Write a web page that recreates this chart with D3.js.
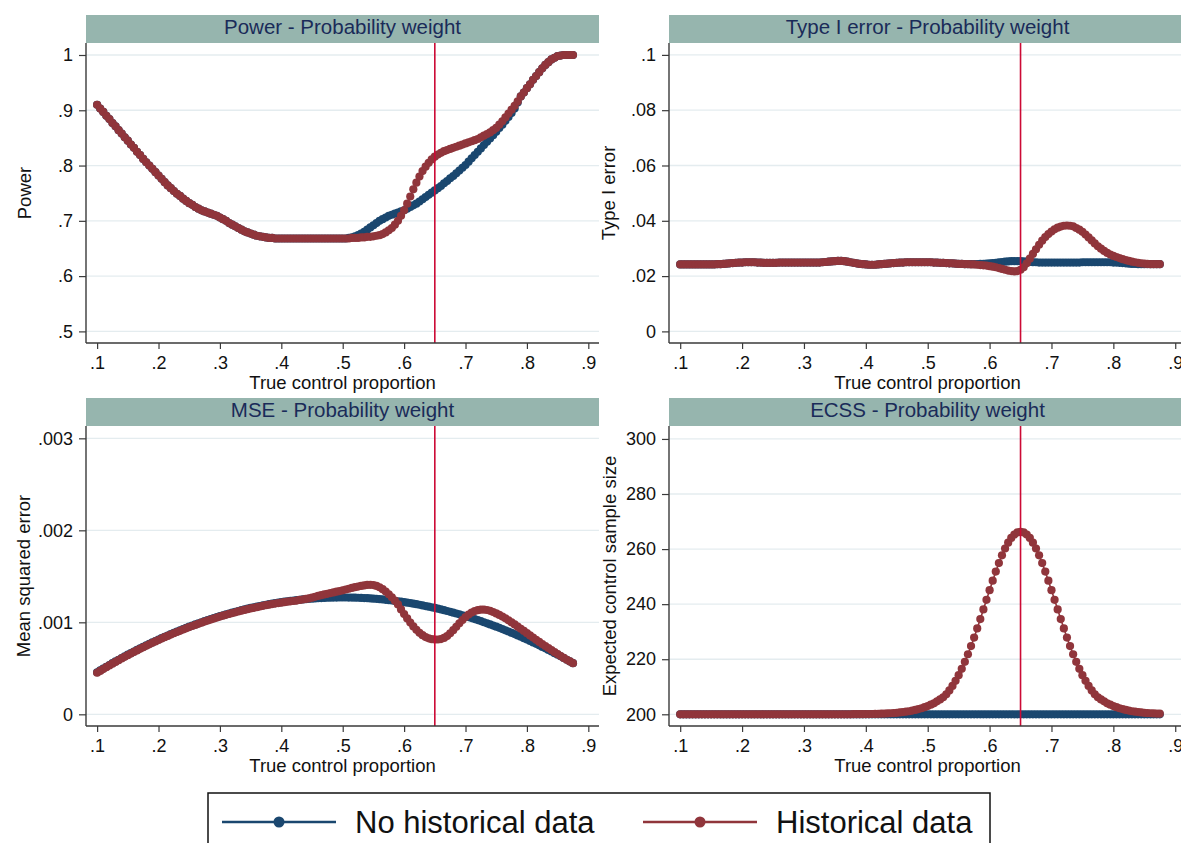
<!DOCTYPE html>
<html>
<head>
<meta charset="utf-8">
<script src="https://cdn.jsdelivr.net/npm/d3@7"></script>
<style>
  body { margin: 0; background: #fff; }
  svg { display: block; font-family: "Liberation Sans", Arial, sans-serif; }
</style>
</head>
<body>
<svg id="chart" width="1181" height="843"></svg>
<script>
// True control proportion grid
const trueProp = [
  0.100,0.105,0.110,0.115,0.120,0.125,0.130,0.135,0.140,0.145,
  0.150,0.155,0.160,0.165,0.170,0.175,0.180,0.185,0.190,0.195,
  0.200,0.205,0.210,0.215,0.220,0.225,0.230,0.235,0.240,0.245,
  0.250,0.255,0.260,0.265,0.270,0.275,0.280,0.285,0.290,0.295,
  0.300,0.305,0.310,0.315,0.320,0.325,0.330,0.335,0.340,0.345,
  0.350,0.355,0.360,0.365,0.370,0.375,0.380,0.385,0.390,0.395,
  0.400,0.405,0.410,0.415,0.420,0.425,0.430,0.435,0.440,0.445,
  0.450,0.455,0.460,0.465,0.470,0.475,0.480,0.485,0.490,0.495,
  0.500,0.505,0.510,0.515,0.520,0.525,0.530,0.535,0.540,0.545,
  0.550,0.555,0.560,0.565,0.570,0.575,0.580,0.585,0.590,0.595,
  0.600,0.605,0.610,0.615,0.620,0.625,0.630,0.635,0.640,0.645,
  0.650,0.655,0.660,0.665,0.670,0.675,0.680,0.685,0.690,0.695,
  0.700,0.705,0.710,0.715,0.720,0.725,0.730,0.735,0.740,0.745,
  0.750,0.755,0.760,0.765,0.770,0.775,0.780,0.785,0.790,0.795,
  0.800,0.805,0.810,0.815,0.820,0.825,0.830,0.835,0.840,0.845,
  0.850,0.855,0.860,0.865,0.870,0.875
];

// Power
const powerNoHist = [
  0.910,0.903,0.897,0.890,0.884,0.877,0.871,0.864,0.858,0.851,
  0.845,0.838,0.832,0.825,0.819,0.812,0.806,0.800,0.794,0.788,
  0.782,0.776,0.770,0.764,0.759,0.754,0.749,0.745,0.740,0.736,
  0.732,0.729,0.725,0.722,0.719,0.717,0.715,0.713,0.711,0.709,
  0.706,0.703,0.700,0.696,0.693,0.690,0.687,0.684,0.681,0.679,
  0.677,0.675,0.673,0.672,0.671,0.670,0.669,0.669,0.668,0.668,
  0.668,0.668,0.668,0.668,0.668,0.668,0.668,0.668,0.668,0.668,
  0.668,0.668,0.668,0.668,0.668,0.668,0.668,0.668,0.668,0.668,
  0.668,0.668,0.669,0.670,0.672,0.674,0.677,0.680,0.684,0.688,
  0.692,0.696,0.700,0.703,0.706,0.709,0.711,0.713,0.715,0.717,
  0.719,0.722,0.725,0.728,0.731,0.735,0.739,0.743,0.747,0.751,
  0.755,0.759,0.763,0.768,0.772,0.777,0.781,0.786,0.791,0.796,
  0.801,0.807,0.813,0.819,0.825,0.831,0.837,0.843,0.849,0.855,
  0.861,0.868,0.874,0.881,0.888,0.895,0.903,0.914,0.925,0.932,
  0.940,0.947,0.955,0.962,0.969,0.976,0.982,0.987,0.992,0.995,
  0.998,0.999,1.000,1.000,1.000,1.000
];
const powerHist = [
  0.910,0.903,0.897,0.890,0.884,0.877,0.871,0.864,0.858,0.851,
  0.845,0.838,0.832,0.825,0.819,0.812,0.806,0.800,0.794,0.788,
  0.782,0.776,0.770,0.764,0.759,0.754,0.749,0.745,0.740,0.736,
  0.732,0.729,0.725,0.722,0.719,0.717,0.715,0.713,0.711,0.709,
  0.706,0.703,0.700,0.696,0.693,0.690,0.687,0.684,0.681,0.679,
  0.677,0.675,0.673,0.672,0.671,0.670,0.669,0.669,0.668,0.668,
  0.668,0.668,0.668,0.668,0.668,0.668,0.668,0.668,0.668,0.668,
  0.668,0.668,0.668,0.668,0.668,0.668,0.668,0.668,0.668,0.668,
  0.668,0.668,0.668,0.669,0.669,0.669,0.670,0.670,0.671,0.671,
  0.672,0.673,0.674,0.676,0.679,0.683,0.687,0.693,0.700,0.709,
  0.719,0.731,0.744,0.757,0.769,0.780,0.790,0.798,0.805,0.811,
  0.816,0.820,0.823,0.826,0.828,0.830,0.832,0.834,0.836,0.838,
  0.840,0.842,0.844,0.846,0.848,0.851,0.854,0.857,0.860,0.864,
  0.868,0.874,0.880,0.887,0.894,0.901,0.908,0.916,0.925,0.932,
  0.940,0.947,0.955,0.962,0.969,0.976,0.982,0.987,0.992,0.995,
  0.998,0.999,1.000,1.000,1.000,1.000
];

// Type I error
const typeINoHist = [
  0.0242,0.0242,0.0242,0.0242,0.0242,0.0242,0.0242,0.0242,0.0242,0.0242,
  0.0242,0.0242,0.0243,0.0243,0.0244,0.0245,0.0246,0.0247,0.0248,0.0249,
  0.0249,0.0250,0.0250,0.0250,0.0250,0.0249,0.0249,0.0248,0.0248,0.0248,
  0.0248,0.0248,0.0249,0.0249,0.0249,0.0249,0.0249,0.0249,0.0249,0.0249,
  0.0249,0.0249,0.0249,0.0249,0.0249,0.0249,0.0250,0.0251,0.0252,0.0253,
  0.0254,0.0255,0.0255,0.0254,0.0252,0.0250,0.0248,0.0246,0.0244,0.0243,
  0.0242,0.0241,0.0241,0.0241,0.0242,0.0243,0.0244,0.0245,0.0246,0.0247,
  0.0248,0.0249,0.0249,0.0250,0.0250,0.0250,0.0250,0.0250,0.0250,0.0250,
  0.0250,0.0250,0.0249,0.0249,0.0248,0.0248,0.0247,0.0246,0.0246,0.0245,
  0.0244,0.0244,0.0243,0.0243,0.0243,0.0243,0.0243,0.0244,0.0244,0.0245,
  0.0246,0.0247,0.0248,0.0250,0.0251,0.0252,0.0253,0.0254,0.0254,0.0254,
  0.0254,0.0253,0.0252,0.0251,0.0250,0.0250,0.0249,0.0249,0.0249,0.0249,
  0.0249,0.0249,0.0249,0.0249,0.0249,0.0249,0.0249,0.0249,0.0249,0.0249,
  0.0250,0.0250,0.0250,0.0250,0.0250,0.0250,0.0250,0.0250,0.0250,0.0250,
  0.0249,0.0249,0.0248,0.0247,0.0246,0.0245,0.0244,0.0244,0.0243,0.0243,
  0.0243,0.0243,0.0243,0.0243,0.0243,0.0243
];
const typeIHist = [
  0.0242,0.0242,0.0242,0.0242,0.0242,0.0242,0.0242,0.0242,0.0242,0.0242,
  0.0242,0.0242,0.0243,0.0243,0.0244,0.0245,0.0246,0.0247,0.0248,0.0249,
  0.0249,0.0250,0.0250,0.0250,0.0250,0.0249,0.0249,0.0248,0.0248,0.0248,
  0.0248,0.0248,0.0249,0.0249,0.0249,0.0249,0.0249,0.0249,0.0249,0.0249,
  0.0249,0.0249,0.0249,0.0249,0.0249,0.0249,0.0250,0.0251,0.0252,0.0253,
  0.0254,0.0255,0.0255,0.0254,0.0252,0.0250,0.0248,0.0246,0.0244,0.0243,
  0.0242,0.0241,0.0241,0.0241,0.0242,0.0243,0.0244,0.0245,0.0246,0.0247,
  0.0248,0.0249,0.0249,0.0250,0.0250,0.0250,0.0250,0.0250,0.0250,0.0250,
  0.0250,0.0250,0.0249,0.0249,0.0248,0.0248,0.0247,0.0246,0.0246,0.0245,
  0.0244,0.0244,0.0243,0.0243,0.0242,0.0242,0.0241,0.0240,0.0239,0.0238,
  0.0236,0.0234,0.0232,0.0229,0.0226,0.0223,0.0220,0.0218,0.0217,0.0218,
  0.0223,0.0232,0.0246,0.0263,0.0280,0.0297,0.0313,0.0328,0.0341,0.0352,
  0.0361,0.0369,0.0375,0.0379,0.0382,0.0383,0.0382,0.0380,0.0374,0.0368,
  0.0360,0.0350,0.0340,0.0329,0.0318,0.0308,0.0299,0.0291,0.0284,0.0278,
  0.0273,0.0269,0.0265,0.0261,0.0258,0.0255,0.0252,0.0250,0.0248,0.0246,
  0.0245,0.0244,0.0243,0.0243,0.0243,0.0243
];

// Mean squared error
const mseNoHist = [
  0.000457,0.000477,0.000497,0.000517,0.000536,0.000556,0.000575,0.000593,0.000612,0.000630,
  0.000648,0.000665,0.000683,0.000700,0.000717,0.000733,0.000750,0.000766,0.000782,0.000797,
  0.000813,0.000828,0.000843,0.000857,0.000872,0.000886,0.000900,0.000913,0.000927,0.000940,
  0.000953,0.000965,0.000977,0.000989,0.001001,0.001013,0.001024,0.001035,0.001046,0.001057,
  0.001067,0.001077,0.001087,0.001096,0.001105,0.001114,0.001123,0.001132,0.001140,0.001148,
  0.001156,0.001163,0.001170,0.001177,0.001184,0.001191,0.001197,0.001203,0.001209,0.001214,
  0.001219,0.001224,0.001229,0.001233,0.001237,0.001241,0.001245,0.001249,0.001252,0.001255,
  0.001257,0.001260,0.001262,0.001264,0.001265,0.001267,0.001268,0.001269,0.001269,0.001270,
  0.001270,0.001270,0.001269,0.001269,0.001268,0.001267,0.001265,0.001264,0.001262,0.001260,
  0.001257,0.001255,0.001252,0.001249,0.001245,0.001241,0.001237,0.001233,0.001229,0.001224,
  0.001219,0.001214,0.001209,0.001203,0.001197,0.001191,0.001184,0.001177,0.001170,0.001163,
  0.001156,0.001148,0.001140,0.001132,0.001123,0.001114,0.001105,0.001096,0.001087,0.001077,
  0.001067,0.001057,0.001046,0.001035,0.001024,0.001013,0.001001,0.000989,0.000977,0.000965,
  0.000953,0.000940,0.000927,0.000913,0.000900,0.000886,0.000872,0.000857,0.000843,0.000828,
  0.000813,0.000797,0.000782,0.000766,0.000750,0.000733,0.000717,0.000700,0.000683,0.000665,
  0.000648,0.000630,0.000612,0.000593,0.000575,0.000556
];
const mseHist = [
  0.000452,0.000472,0.000492,0.000512,0.000531,0.000551,0.000570,0.000588,0.000607,0.000625,
  0.000643,0.000660,0.000678,0.000695,0.000712,0.000728,0.000745,0.000761,0.000777,0.000792,
  0.000808,0.000823,0.000838,0.000852,0.000867,0.000881,0.000895,0.000908,0.000922,0.000935,
  0.000948,0.000960,0.000972,0.000984,0.000996,0.001008,0.001019,0.001030,0.001041,0.001052,
  0.001062,0.001072,0.001082,0.001091,0.001100,0.001109,0.001118,0.001127,0.001135,0.001143,
  0.001151,0.001158,0.001165,0.001172,0.001179,0.001186,0.001192,0.001198,0.001204,0.001209,
  0.001214,0.001219,0.001224,0.001228,0.001232,0.001236,0.001243,0.001248,0.001254,0.001260,
  0.001268,0.001277,0.001287,0.001295,0.001303,0.001310,0.001318,0.001325,0.001333,0.001340,
  0.001348,0.001357,0.001365,0.001374,0.001382,0.001389,0.001396,0.001401,0.001406,0.001408,
  0.001405,0.001396,0.001381,0.001360,0.001334,0.001305,0.001272,0.001235,0.001194,0.001140,
  0.001090,0.001042,0.000997,0.000955,0.000918,0.000886,0.000860,0.000840,0.000826,0.000817,
  0.000813,0.000813,0.000818,0.000830,0.000850,0.000880,0.000915,0.000952,0.000990,0.001025,
  0.001057,0.001085,0.001107,0.001122,0.001132,0.001137,0.001138,0.001134,0.001125,0.001112,
  0.001097,0.001080,0.001062,0.001043,0.001022,0.001000,0.000977,0.000953,0.000930,0.000906,
  0.000882,0.000858,0.000834,0.000810,0.000787,0.000764,0.000742,0.000720,0.000698,0.000676,
  0.000655,0.000634,0.000613,0.000593,0.000575,0.000556
];

// Expected control sample size
const ecssNoHist = [
  200,200,200,200,200,200,200,200,200,200,
  200,200,200,200,200,200,200,200,200,200,
  200,200,200,200,200,200,200,200,200,200,
  200,200,200,200,200,200,200,200,200,200,
  200,200,200,200,200,200,200,200,200,200,
  200,200,200,200,200,200,200,200,200,200,
  200,200,200,200,200,200,200,200,200,200,
  200,200,200,200,200,200,200,200,200,200,
  200,200,200,200,200,200,200,200,200,200,
  200,200,200,200,200,200,200,200,200,200,
  200,200,200,200,200,200,200,200,200,200,
  200,200,200,200,200,200,200,200,200,200,
  200,200,200,200,200,200,200,200,200,200,
  200,200,200,200,200,200,200,200,200,200,
  200,200,200,200,200,200,200,200,200,200,
  200,200,200,200,200,200
];
const ecssHist = [
  200.0,200.0,200.0,200.0,200.0,200.0,200.0,200.0,200.0,200.0,
  200.0,200.0,200.0,200.0,200.0,200.0,200.0,200.0,200.0,200.0,
  200.0,200.0,200.0,200.0,200.0,200.0,200.0,200.0,200.0,200.0,
  200.0,200.0,200.0,200.0,200.0,200.0,200.0,200.0,200.0,200.0,
  200.0,200.0,200.0,200.0,200.0,200.0,200.0,200.0,200.0,200.0,
  200.0,200.0,200.0,200.0,200.0,200.0,200.03,200.04,200.05,200.06,
  200.07,200.09,200.11,200.14,200.17,200.21,200.26,200.32,200.38,200.46,
  200.55,200.67,200.8,200.95,201.1,201.35,201.6,201.9,202.2,202.6,
  203.0,203.5,204.0,204.7,205.4,206.2,207.24,208.66,210.3,212.15,
  214.22,216.53,219.06,221.81,224.76,227.88,231.17,234.58,238.07,241.58,
  245.09,248.52,251.82,254.91,257.73,260.22,262.34,264.04,265.29,266.05,
  266.3,266.05,265.29,264.04,262.34,260.22,257.73,254.91,251.82,248.52,
  245.09,241.58,238.07,234.58,231.17,227.88,224.76,221.81,219.06,216.53,
  214.22,212.15,210.3,208.66,207.24,206.2,205.4,204.7,204.0,203.5,
  203.0,202.6,202.2,201.9,201.6,201.35,201.1,200.95,200.8,200.67,
  200.55,200.46,200.38,200.32,200.26,200.21
];

// Axis ticks
const xTicks = [0.1,0.2,0.3,0.4,0.5,0.6,0.7,0.8,0.9];
const xTickLabels = [".1",".2",".3",".4",".5",".6",".7",".8",".9"];
const powerTicks = [0.5,0.6,0.7,0.8,0.9,1];
const powerTickLabels = [".5",".6",".7",".8",".9","1"];
const typeITicks = [0,0.02,0.04,0.06,0.08,0.1];
const typeITickLabels = ["0",".02",".04",".06",".08",".1"];
const mseTicks = [0,0.001,0.002,0.003];
const mseTickLabels = ["0",".001",".002",".003"];
const ecssTicks = [200,220,240,260,280,300];
const ecssTickLabels = ["200","220","240","260","280","300"];

const seriesNames = ["No historical data", "Historical data"];
const referenceProp = 0.65;

const COLORS = { noHist: "#1a476f", hist: "#90353b" };
const HEADER_FILL = "#96b5ae";
const TITLE_COLOR = "#1a2b59";
const GRID_COLOR = "#e4ecef";
const REF_COLOR = "#cc0a35";

const svg = d3.select("#chart");
svg.append("rect").attr("width", 1181).attr("height", 843).attr("fill", "#fff");

const panels = [
  { title: "Power - Probability weight", yTitle: "Power",
    noHist: powerNoHist, hist: powerHist,
    yDomain: [0.479, 1.0217], yTicks: powerTicks, yLabels: powerTickLabels,
    x0: 86, x1: 599, top: 15, yTitleX: 25 },
  { title: "Type I error - Probability weight", yTitle: "Type I error",
    noHist: typeINoHist, hist: typeIHist,
    yDomain: [-0.0042, 0.1043], yTicks: typeITicks, yLabels: typeITickLabels,
    x0: 669, x1: 1186, top: 15, yTitleX: 609 },
  { title: "MSE - Probability weight", yTitle: "Mean squared error",
    noHist: mseNoHist, hist: mseHist,
    yDomain: [-0.000127, 0.003134], yTicks: mseTicks, yLabels: mseTickLabels,
    x0: 86, x1: 599, top: 398, yTitleX: 24 },
  { title: "ECSS - Probability weight", yTitle: "Expected control sample size",
    noHist: ecssNoHist, hist: ecssHist,
    yDomain: [195.75, 304.7], yTicks: ecssTicks, yLabels: ecssTickLabels,
    x0: 669, x1: 1186, top: 398, yTitleX: 610 }
];

const HEADER_H = 28, PLOT_H = 300;

function drawSeries(g, x, y, values, color) {
  const pts = trueProp.map((p, i) => [p, values[i]]);
  g.append("path")
    .datum(pts)
    .attr("fill", "none")
    .attr("stroke", color)
    .attr("stroke-width", 1.6)
    .attr("d", d3.line().x(d => x(d[0])).y(d => y(d[1])));
  g.append("g").selectAll("circle")
    .data(pts)
    .join("circle")
    .attr("cx", d => x(d[0]))
    .attr("cy", d => y(d[1]))
    .attr("r", 4.1)
    .attr("fill", color);
}

panels.forEach(p => {
  const plotTop = p.top + HEADER_H;
  const plotBottom = plotTop + PLOT_H;
  const x = d3.scaleLinear().domain([0.0819, 0.9174]).range([p.x0, p.x1]);
  const y = d3.scaleLinear().domain(p.yDomain).range([plotBottom, plotTop]);
  const g = svg.append("g");

  // header band with title
  g.append("rect")
    .attr("x", p.x0).attr("y", p.top)
    .attr("width", p.x1 - p.x0).attr("height", HEADER_H)
    .attr("fill", HEADER_FILL);
  g.append("text")
    .attr("x", (p.x0 + p.x1) / 2).attr("y", p.top + 19)
    .attr("text-anchor", "middle")
    .attr("font-size", 20.5)
    .attr("fill", TITLE_COLOR)
    .text(p.title);

  // horizontal grid
  g.append("g").selectAll("line")
    .data(p.yTicks)
    .join("line")
    .attr("x1", p.x0).attr("x2", p.x1)
    .attr("y1", d => y(d)).attr("y2", d => y(d))
    .attr("stroke", GRID_COLOR).attr("stroke-width", 1.3);

  // series: no historical data beneath, historical data on top
  drawSeries(g, x, y, p.noHist, COLORS.noHist);
  drawSeries(g, x, y, p.hist, COLORS.hist);

  // reference line at the assumed control proportion
  g.append("line")
    .attr("x1", x(referenceProp)).attr("x2", x(referenceProp))
    .attr("y1", plotTop).attr("y2", plotBottom)
    .attr("stroke", REF_COLOR).attr("stroke-width", 1.6);

  // axes
  const yAxis = d3.axisLeft(y)
    .tickValues(p.yTicks)
    .tickFormat((d, i) => p.yLabels[i])
    .tickSize(7).tickSizeOuter(0).tickPadding(6);
  const yg = g.append("g").attr("transform", `translate(${p.x0},0)`).call(yAxis);
  const xAxis = d3.axisBottom(x)
    .tickValues(xTicks)
    .tickFormat((d, i) => xTickLabels[i])
    .tickSize(6).tickSizeOuter(0).tickPadding(7);
  const xg = g.append("g").attr("transform", `translate(0,${plotBottom})`).call(xAxis);

  [yg, xg].forEach(ax => {
    ax.attr("font-family", null).attr("font-size", null);
    ax.select(".domain").attr("stroke", "#3a3a3a").attr("stroke-width", 1.4);
    ax.selectAll(".tick line").attr("stroke", "#3a3a3a").attr("stroke-width", 1.2);
    ax.selectAll(".tick text").attr("fill", "#111").attr("font-size", 18);
  });
  // y-axis domain spans the full plot height
  yg.select(".domain").attr("d", `M0,${plotTop}V${plotBottom}`);
  xg.select(".domain").attr("d", `M${p.x0},0H${p.x1}`);

  // axis titles
  g.append("text")
    .attr("x", (p.x0 + p.x1) / 2).attr("y", plotBottom + 46)
    .attr("text-anchor", "middle")
    .attr("font-size", 18.5)
    .attr("fill", "#111")
    .text("True control proportion");
  g.append("text")
    .attr("transform", `translate(${p.yTitleX},${(plotTop + plotBottom) / 2}) rotate(-90)`)
    .attr("text-anchor", "middle")
    .attr("dy", "0.35em")
    .attr("font-size", 18.5)
    .attr("fill", "#111")
    .text(p.yTitle);
});

// legend
const legend = svg.append("g");
legend.append("rect")
  .attr("x", 208).attr("y", 793)
  .attr("width", 782).attr("height", 70)
  .attr("fill", "#fff")
  .attr("stroke", "#111").attr("stroke-width", 1.5);

const legendItems = [
  { name: seriesNames[0], color: COLORS.noHist, lx: 222 },
  { name: seriesNames[1], color: COLORS.hist, lx: 643 }
];
legendItems.forEach(it => {
  const cy = 822;
  legend.append("line")
    .attr("x1", it.lx).attr("x2", it.lx + 114)
    .attr("y1", cy).attr("y2", cy)
    .attr("stroke", it.color).attr("stroke-width", 2.5);
  legend.append("circle")
    .attr("cx", it.lx + 57).attr("cy", cy).attr("r", 5.5)
    .attr("fill", it.color);
  legend.append("text")
    .attr("x", it.lx + 133).attr("y", cy + 11)
    .attr("font-size", 31)
    .attr("fill", "#111")
    .text(it.name);
});
</script>
</body>
</html>
